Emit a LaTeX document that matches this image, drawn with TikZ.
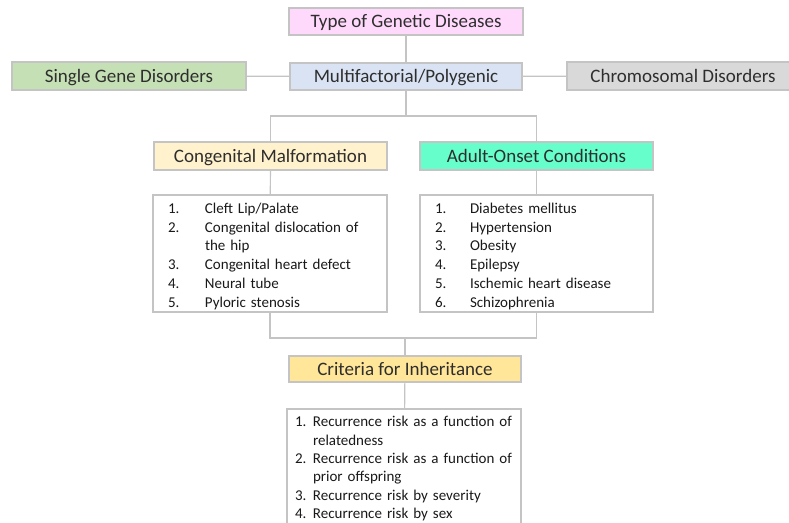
\documentclass[tikz,border=0pt]{standalone}
\usepackage{fontspec}
\setmainfont{Carlito}
\definecolor{boxgray}{HTML}{C4C4C4}
\definecolor{linegray}{HTML}{C4C4C4}
\definecolor{txt}{HTML}{2E2E2E}
\definecolor{cpink}{HTML}{FFD9FB}
\definecolor{cblue}{HTML}{DAE3F3}
\definecolor{cgreen}{HTML}{C5E0B4}
\definecolor{cgrey}{HTML}{D9D9D9}
\definecolor{ccream}{HTML}{FFF2CC}
\definecolor{caqua}{HTML}{66FFCC}
\definecolor{cgold}{HTML}{FFE699}
\newcommand{\topstrut}{\rule{0pt}{16pt}}
\begin{document}
\begin{tikzpicture}[x=1pt,y=-1pt,
  hbox/.style={draw=boxgray, line width=1.3pt, inner sep=0pt, minimum height=27pt,
    text height=12.3pt, text depth=0pt,
    text=txt, font=\fontsize{19}{22}\selectfont},
  lbox/.style={draw=boxgray, line width=1.3pt, fill=white, align=left, inner ysep=0pt,
    text=black!90, font=\fontsize{15}{18.8}\selectfont},
  conn/.style={draw=linegray, line width=1.2pt}]
\clip (0,0) rectangle (789,522);
\fill[white] (0,0) rectangle (789,522);

\node[hbox, fill=cpink, minimum width=234pt] (title) at (406,21.5) {Type of Genetic Diseases};
\node[hbox, fill=cblue, minimum width=232pt] (multi) at (406,76.5) {Multifactorial/Polygenic};
\node[hbox, fill=cgreen, minimum width=234pt, minimum height=28pt] (single) at (129,76) {Single Gene Disorders};
\node[hbox, fill=cgrey, minimum width=232pt, minimum height=28pt] (chromo) at (683,76) {Chromosomal Disorders};
\node[hbox, fill=ccream, minimum width=233pt, minimum height=28pt] (cong) at (270.5,156) {Congenital Malformation};
\node[hbox, fill=caqua, minimum width=233pt, minimum height=28pt] (adult) at (536.5,156) {Adult-Onset Conditions};
\node[hbox, fill=cgold, minimum width=232pt, minimum height=26pt] (crit) at (405,369) {Criteria for Inheritance};

\node[lbox, inner xsep=15pt, text width=204pt, minimum height=117pt] (clist) at (270,253.5) {%
\topstrut\makebox[37pt][l]{1.}Cleft Lip/Palate\\
\makebox[37pt][l]{2.}Congenital dislocation of\\
\hspace*{37pt}the hip\\
\makebox[37pt][l]{3.}Congenital heart defect\\
\makebox[37pt][l]{4.}Neural tube\\
\makebox[37pt][l]{5.}Pyloric stenosis};

\node[lbox, inner xsep=8pt, text width=203pt, minimum height=117pt, inner xsep=15pt] (alist) at (536.5,253.5) {%
\topstrut\makebox[35pt][l]{1.}Diabetes mellitus\\
\makebox[35pt][l]{2.}Hypertension\\
\makebox[35pt][l]{3.}Obesity\\
\makebox[35pt][l]{4.}Epilepsy\\
\makebox[35pt][l]{5.}Ischemic heart disease\\
\makebox[35pt][l]{6.}Schizophrenia};

\node[lbox, inner xsep=8pt, text width=218pt, minimum height=118pt,
  font=\fontsize{15}{18.4}\selectfont] (critlist) at (404,468) {%
\rule{0pt}{12pt}\makebox[18pt][l]{1.}Recurrence risk as a function of\\
\hspace*{18pt}relatedness\\
\makebox[18pt][l]{2.}Recurrence risk as a function of\\
\hspace*{18pt}prior offspring\\
\makebox[18pt][l]{3.}Recurrence risk by severity\\
\makebox[18pt][l]{4.}Recurrence risk by sex};

\coordinate (split) at (406,116);
\coordinate (merge) at (405,338);

\draw[conn] (title) -- (multi);
\draw[conn] (single) -- (multi);
\draw[conn] (multi) -- (chromo);
\draw[conn] (multi) -- (split);
\draw[conn] (cong) |- (split) -| (adult);
\draw[conn] (cong) -- (clist);
\draw[conn] (adult) -- (alist);
\draw[conn] (clist) |- (merge) -| (alist);
\draw[conn] (merge) -- (crit);
\draw[conn] (crit) -- (critlist);
\end{tikzpicture}
\end{document}
